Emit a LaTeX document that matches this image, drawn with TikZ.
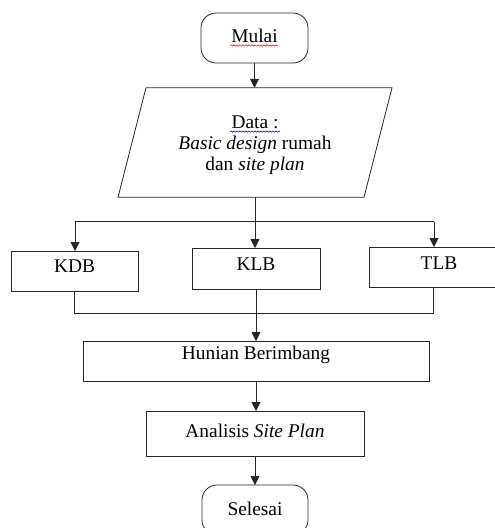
\documentclass[tikz,border=0pt]{standalone}
\usepackage{fontspec}
\setmainfont{Liberation Serif}
\usetikzlibrary{arrows.meta,decorations.pathmorphing}
\begin{document}
\begin{tikzpicture}[x=1pt,y=-1pt,
  every node/.style={inner sep=0pt, outer sep=0pt, font=\fontsize{19.4}{21}\selectfont},
  box/.style={draw=black!85, line width=0.8pt, rectangle},
  term/.style={draw=black!85, line width=0.8pt, rounded corners=15pt},
  line/.style={draw=black!85, line width=0.8pt},
  arr/.style={draw=black!85, line width=0.8pt, -{Triangle[length=9pt,width=9pt]}},
  wavy/.style={line width=0.5pt, decorate, decoration={snake, amplitude=0.7pt, segment length=3pt}},
]
\useasboundingbox (0,0) rectangle (495,528);
\clip (0,0) rectangle (495,528);

% terminal start
\node[term, minimum width=107pt, minimum height=50pt, text height=29.7pt, text depth=20.3pt] (mulai) at (254.5,38) {Mulai};
\draw[wavy, red] (230,45.5) -- (278,45.5);

% data parallelogram
\node[minimum width=246pt, minimum height=109.5pt] (data) at (255,142.5) {};
\draw[line] ([xshift=14pt]data.north west) -- ([xshift=14pt]data.north east) -- ([xshift=-14pt]data.south east) -- ([xshift=-14pt]data.south west) -- cycle;
\node[anchor=base] (d1) at (255,128) {Data :};
\node[anchor=base] (d2) at (255,149) {\textit{Basic design} rumah};
\node[anchor=base] (d3) at (255,170) {dan \textit{site plan}};
\draw[wavy, blue!70!black] (230,131.5) -- (280,131.5);

% three boxes
\node[box, minimum width=127pt, minimum height=40pt, text height=21.7pt, text depth=18.3pt] (kdb) at (74.5,271) {KDB};
\node[box, minimum width=128pt, minimum height=41pt, text height=22.7pt, text depth=18.3pt] (klb) at (256,268.5) {KLB};
\node[box, minimum width=140pt, minimum height=40pt, text height=22.3pt, text depth=17.7pt] (tlb) at (439,267) {TLB};

% lower boxes
\node[box, minimum width=346pt, minimum height=40pt, text height=18.3pt, text depth=21.7pt] (hunian) at (256,361) {Hunian Berimbang};
\node[box, minimum width=218pt, minimum height=45pt, text height=26.3pt, text depth=18.7pt] (analisis) at (255,433.5) {Analisis \textit{Site Plan}};
\node[term, minimum width=106pt, minimum height=50pt, text height=30pt, text depth=20pt] (selesai) at (255,510) {Selesai};

% connectors
\draw[arr] (mulai.south) -- (mulai.south |- data.north);
\coordinate (split) at (255,221.5);
\coordinate (sl) at (75,221.5);
\coordinate (sr) at (434,221.5);
\draw[line] (data.south) -- (split);
\draw[line] (sl) -- (sr);
\draw[arr] (split) -- (split |- klb.north);
\draw[arr] (sl) -- (sl |- kdb.north);
\draw[arr] (sr) -- (sr |- tlb.north);
\coordinate (jl) at (74.5,313);
\coordinate (jr) at (433,313);
\draw[line] (kdb.south) -- (jl) -- (jr) -- (jr |- tlb.south);
\draw[arr] (klb.south) -- (klb.south |- hunian.north);
\draw[arr] (hunian.south) -- (hunian.south |- analisis.north);
\draw[arr] (analisis.south) -- (analisis.south |- selesai.north);
\end{tikzpicture}
\end{document}
